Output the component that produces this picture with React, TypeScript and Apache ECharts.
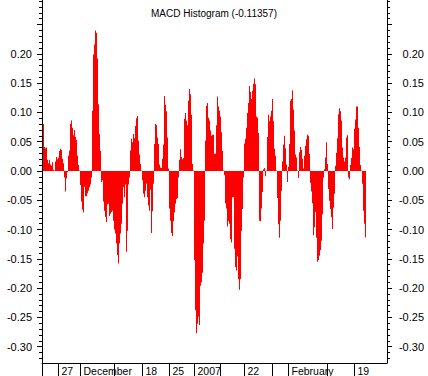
import React, { useEffect, useRef } from "react";
import * as echarts from "echarts";

const TITLE = "MACD Histogram (-0.11357)";

// one value per time step (left to right)
const macdHist: number[] = [
  0.080, 0.041, 0.039, 0.040, 0.019, 0.013, 0.019, 0.011, 0.009, 0.015,
  0.002, 0.001, 0.016, 0.024, 0.020, 0.023, 0.034, 0.038, 0.036, 0.021,
  0.013, -0.011, -0.035, -0.013, -0.002, 0.026, 0.035, 0.080, 0.086, 0.074,
  0.061, 0.070, 0.058, 0.053, 0.026, 0.010, 0.001, -0.024, -0.052, -0.066,
  -0.071, -0.027, -0.043, -0.043, -0.038, -0.034, -0.028, -0.023, -0.011, 0.103,
  0.199, 0.216, 0.240,
  0.236, 0.192, 0.114, 0.063, 0.034, -0.019, -0.016, -0.052, -0.068, -0.078,
  -0.087, -0.057, -0.056, -0.077, -0.073, -0.070, -0.068, -0.085, -0.100, -0.107,
  -0.124, -0.144, -0.158, -0.124, -0.107, -0.090, -0.056, -0.028, -0.045, -0.023,
  -0.138, -0.102, -0.023, -0.011, 0.035, 0.055, 0.049, 0.063, 0.056, 0.077,
  0.090, 0.094, 0.052, 0.028, 0.012, 0.001, -0.016, -0.039, -0.045, -0.034,
  -0.022, -0.045, -0.059, -0.068, -0.032,
  -0.106, -0.069, -0.022, 0.046, 0.080, 0.078, 0.057, 0.046, 0.011, 0.006,
  0.005, 0.021, 0.045, 0.128, 0.113, 0.102, 0.057, 0.004, -0.064, -0.085,
  -0.106, -0.111, -0.086, -0.071, -0.056, -0.048, -0.046, -0.011, 0.019, 0.037,
  0.024, 0.020, 0.022, 0.089, 0.099, 0.086, 0.078, 0.120, 0.140, 0.131,
  0.096, 0.012, 0.001, -0.152, -0.238, -0.277, -0.261, -0.249, -0.263, -0.196,
  -0.190, -0.174, -0.124, -0.085, 0.052,
  0.111, 0.116, 0.091, 0.086, 0.069, 0.060, 0.062, 0.062, 0.029, 0.030,
  0.078, 0.127, 0.110, 0.103, 0.093, 0.066, 0.034, 0.001, -0.007, -0.055,
  -0.064, -0.095, -0.086, -0.090, -0.116, -0.122, -0.045, -0.045, -0.133, -0.164,
  -0.170, -0.146, -0.185, -0.203, -0.185, -0.102, -0.065, -0.011, 0.047, 0.055,
  0.074, 0.099, 0.116, 0.145, 0.135, 0.123, 0.137, 0.149, 0.158, 0.148,
  0.093, 0.091, 0.065, -0.085, -0.086,
  -0.064, -0.036, 0.003, 0.005, -0.009, 0.001, 0.058, 0.096, 0.085, 0.093,
  0.103, 0.123, 0.085, 0.038, 0.026, 0.001, -0.046, -0.091, -0.114, -0.085,
  -0.034, 0.016, 0.045, 0.060, 0.039, 0.011, -0.019, 0.007, 0.046, 0.120,
  0.123, 0.138, 0.105, 0.069, 0.028, 0.023, 0.001, -0.012, 0.032, 0.041,
  0.036, 0.021, 0.004, 0.026, 0.043, 0.054, 0.062, 0.060, 0.029, -0.020,
  -0.035, -0.055, -0.110, -0.096, -0.070,
  -0.114, -0.155, -0.152, -0.145, -0.135, -0.119, -0.074, -0.011, 0.003, 0.023,
  0.049, 0.012, -0.031, -0.051, -0.065, -0.079, -0.099, -0.063, -0.039, 0.009,
  0.031, 0.056, 0.097, 0.107, 0.102, 0.086, 0.040, 0.023, 0.016, 0.023,
  0.057, 0.061, -0.011, -0.014, 0.010, 0.022, 0.040, 0.037, 0.072, 0.088,
  0.110, 0.110, 0.074, 0.041, 0.010, 0.001, -0.022, -0.068, -0.090, -0.11357,
];

const leadingEmpty = 1;
const trailingEmpty = 21;

// x tick marks (category index) and their texts
const xTickIndex = [0, 16, 38, 72, 100, 127, 152, 178, 202, 230, 246, 285, 312];
const xTickText = ["", "27", "December", "", "18", "25", "2007", "", "22", "", "February", "", "19"];

// y scale
const yMin = -0.328;
const yMax = 0.292;
const yMajorMin = -0.3;
const yMajorMax = 0.25;
const yMajorStep = 0.05;
const yMinorMin = -0.32;
const yMinorMax = 0.29;
const yMinorStep = 0.01;
const yHiddenLabels = [0.25];

const W = 428;
const H = 376;
const G_LEFT = 42;
const G_RIGHT = 41;
const G_TOP = 0;
const G_BOTTOM = 13;

const FONT = "Liberation Sans, Arial, sans-serif";

export default function App() {
  const ref = useRef<HTMLDivElement>(null);

  useEffect(() => {
    if (!ref.current) return;
    const chart = echarts.init(ref.current, null, { renderer: "svg" });

    const total = leadingEmpty + macdHist.length + trailingEmpty;
    const categories = Array.from({ length: total }, (_, i) => String(i));
    const seriesData: (number | null)[] = [];
    for (let i = 0; i < leadingEmpty; i++) seriesData.push(null);
    macdHist.forEach((v) => seriesData.push(v));
    for (let i = 0; i < trailingEmpty; i++) seriesData.push(null);

    const tickSet = new Set(xTickIndex);
    const tickLabel: Record<number, string> = {};
    xTickIndex.forEach((idx, k) => (tickLabel[idx] = xTickText[k]));

    const plotH = H - G_TOP - G_BOTTOM;
    const yPix = (v: number) => G_TOP + ((yMax - v) / (yMax - yMin)) * plotH;
    const subGrid = (a: number, b: number) => ({
      left: G_LEFT,
      right: G_RIGHT,
      top: yPix(b),
      bottom: H - yPix(a),
      outerBoundsMode: "none",
      containLabel: false,
    });

    const black = "#000";
    const lblStyle = { fontFamily: FONT, fontSize: 11, color: black };

    const option: any = {
      animation: false,
      backgroundColor: "#fff",
      title: {
        text: TITLE,
        left: "center",
        top: 3,
        textStyle: { fontFamily: FONT, fontSize: 10, fontWeight: "normal", color: black },
      },
      grid: [
        { left: G_LEFT, right: G_RIGHT, top: G_TOP, bottom: G_BOTTOM, outerBoundsMode: "none", containLabel: false },
        subGrid(yMajorMin, yMajorMax),
        subGrid(yMinorMin, yMinorMax),
      ],
      xAxis: [
        {
          type: "category",
          gridIndex: 0,
          data: categories,
          boundaryGap: true,
          axisLine: { show: true, onZero: false, lineStyle: { color: black, width: 1 } },
          axisTick: {
            show: true,
            alignWithLabel: true,
            length: 13,
            interval: (i: number) => tickSet.has(i),
            lineStyle: { color: black, width: 1 },
          },
          axisLabel: {
            show: true,
            interval: (i: number) => tickSet.has(i),
            formatter: (_v: string, i: number) => tickLabel[i] ?? "",
            align: "left",
            margin: 2,
            padding: [0, 0, 0, 3],
            fontFamily: FONT,
            fontSize: 10.5,
            color: black,
          },
          splitLine: { show: false },
        },
        { type: "value", gridIndex: 1, show: false },
        { type: "value", gridIndex: 2, show: false },
      ],
      yAxis: [
        // main axes (lines only)
        {
          type: "value", gridIndex: 0, position: "left", min: yMin, max: yMax,
          axisLine: { show: true, lineStyle: { color: black, width: 1 } },
          axisTick: { show: false }, axisLabel: { show: false }, splitLine: { show: false },
        },
        {
          type: "value", gridIndex: 0, position: "right", min: yMin, max: yMax,
          axisLine: { show: true, lineStyle: { color: black, width: 1 } },
          axisTick: { show: false }, axisLabel: { show: false }, splitLine: { show: false },
        },
        // major ticks + labels
        {
          type: "value", gridIndex: 1, position: "left", min: yMajorMin, max: yMajorMax, interval: yMajorStep,
          axisLine: { show: false },
          axisTick: { show: true, length: 5, lineStyle: { color: black, width: 1 } },
          axisLabel: {
            ...lblStyle, margin: 10,
            formatter: (v: number) => (yHiddenLabels.some((h) => Math.abs(h - v) < 1e-6) ? "" : v.toFixed(2)),
          },
          splitLine: { show: false },
        },
        {
          type: "value", gridIndex: 1, position: "right", min: yMajorMin, max: yMajorMax, interval: yMajorStep,
          axisLine: { show: false },
          axisTick: { show: true, length: 5, lineStyle: { color: black, width: 1 } },
          axisLabel: {
            ...lblStyle, margin: 37, align: "right",
            formatter: (v: number) => (yHiddenLabels.some((h) => Math.abs(h - v) < 1e-6) ? "" : v.toFixed(2)),
          },
          splitLine: { show: false },
        },
        // minor ticks
        {
          type: "value", gridIndex: 2, position: "left", min: yMinorMin, max: yMinorMax, interval: yMinorStep,
          axisLine: { show: false },
          axisTick: { show: true, length: 3, lineStyle: { color: black, width: 1 } },
          axisLabel: { show: false }, splitLine: { show: false },
        },
        {
          type: "value", gridIndex: 2, position: "right", min: yMinorMin, max: yMinorMax, interval: yMinorStep,
          axisLine: { show: false },
          axisTick: { show: true, length: 3, lineStyle: { color: black, width: 1 } },
          axisLabel: { show: false }, splitLine: { show: false },
        },
      ],
      series: [
        {
          type: "bar",
          xAxisIndex: 0,
          yAxisIndex: 0,
          data: seriesData,
          barCategoryGap: "0%",
          barGap: "0%",
          itemStyle: { color: "#ff0000" },
          emphasis: { disabled: true },
          silent: true,
        },
      ],
    };

    chart.setOption(option);
    return () => chart.dispose();
  }, []);

  return <div ref={ref} style={{ width: W, height: H, position: "absolute", left: 0, top: 0 }} />;
}
